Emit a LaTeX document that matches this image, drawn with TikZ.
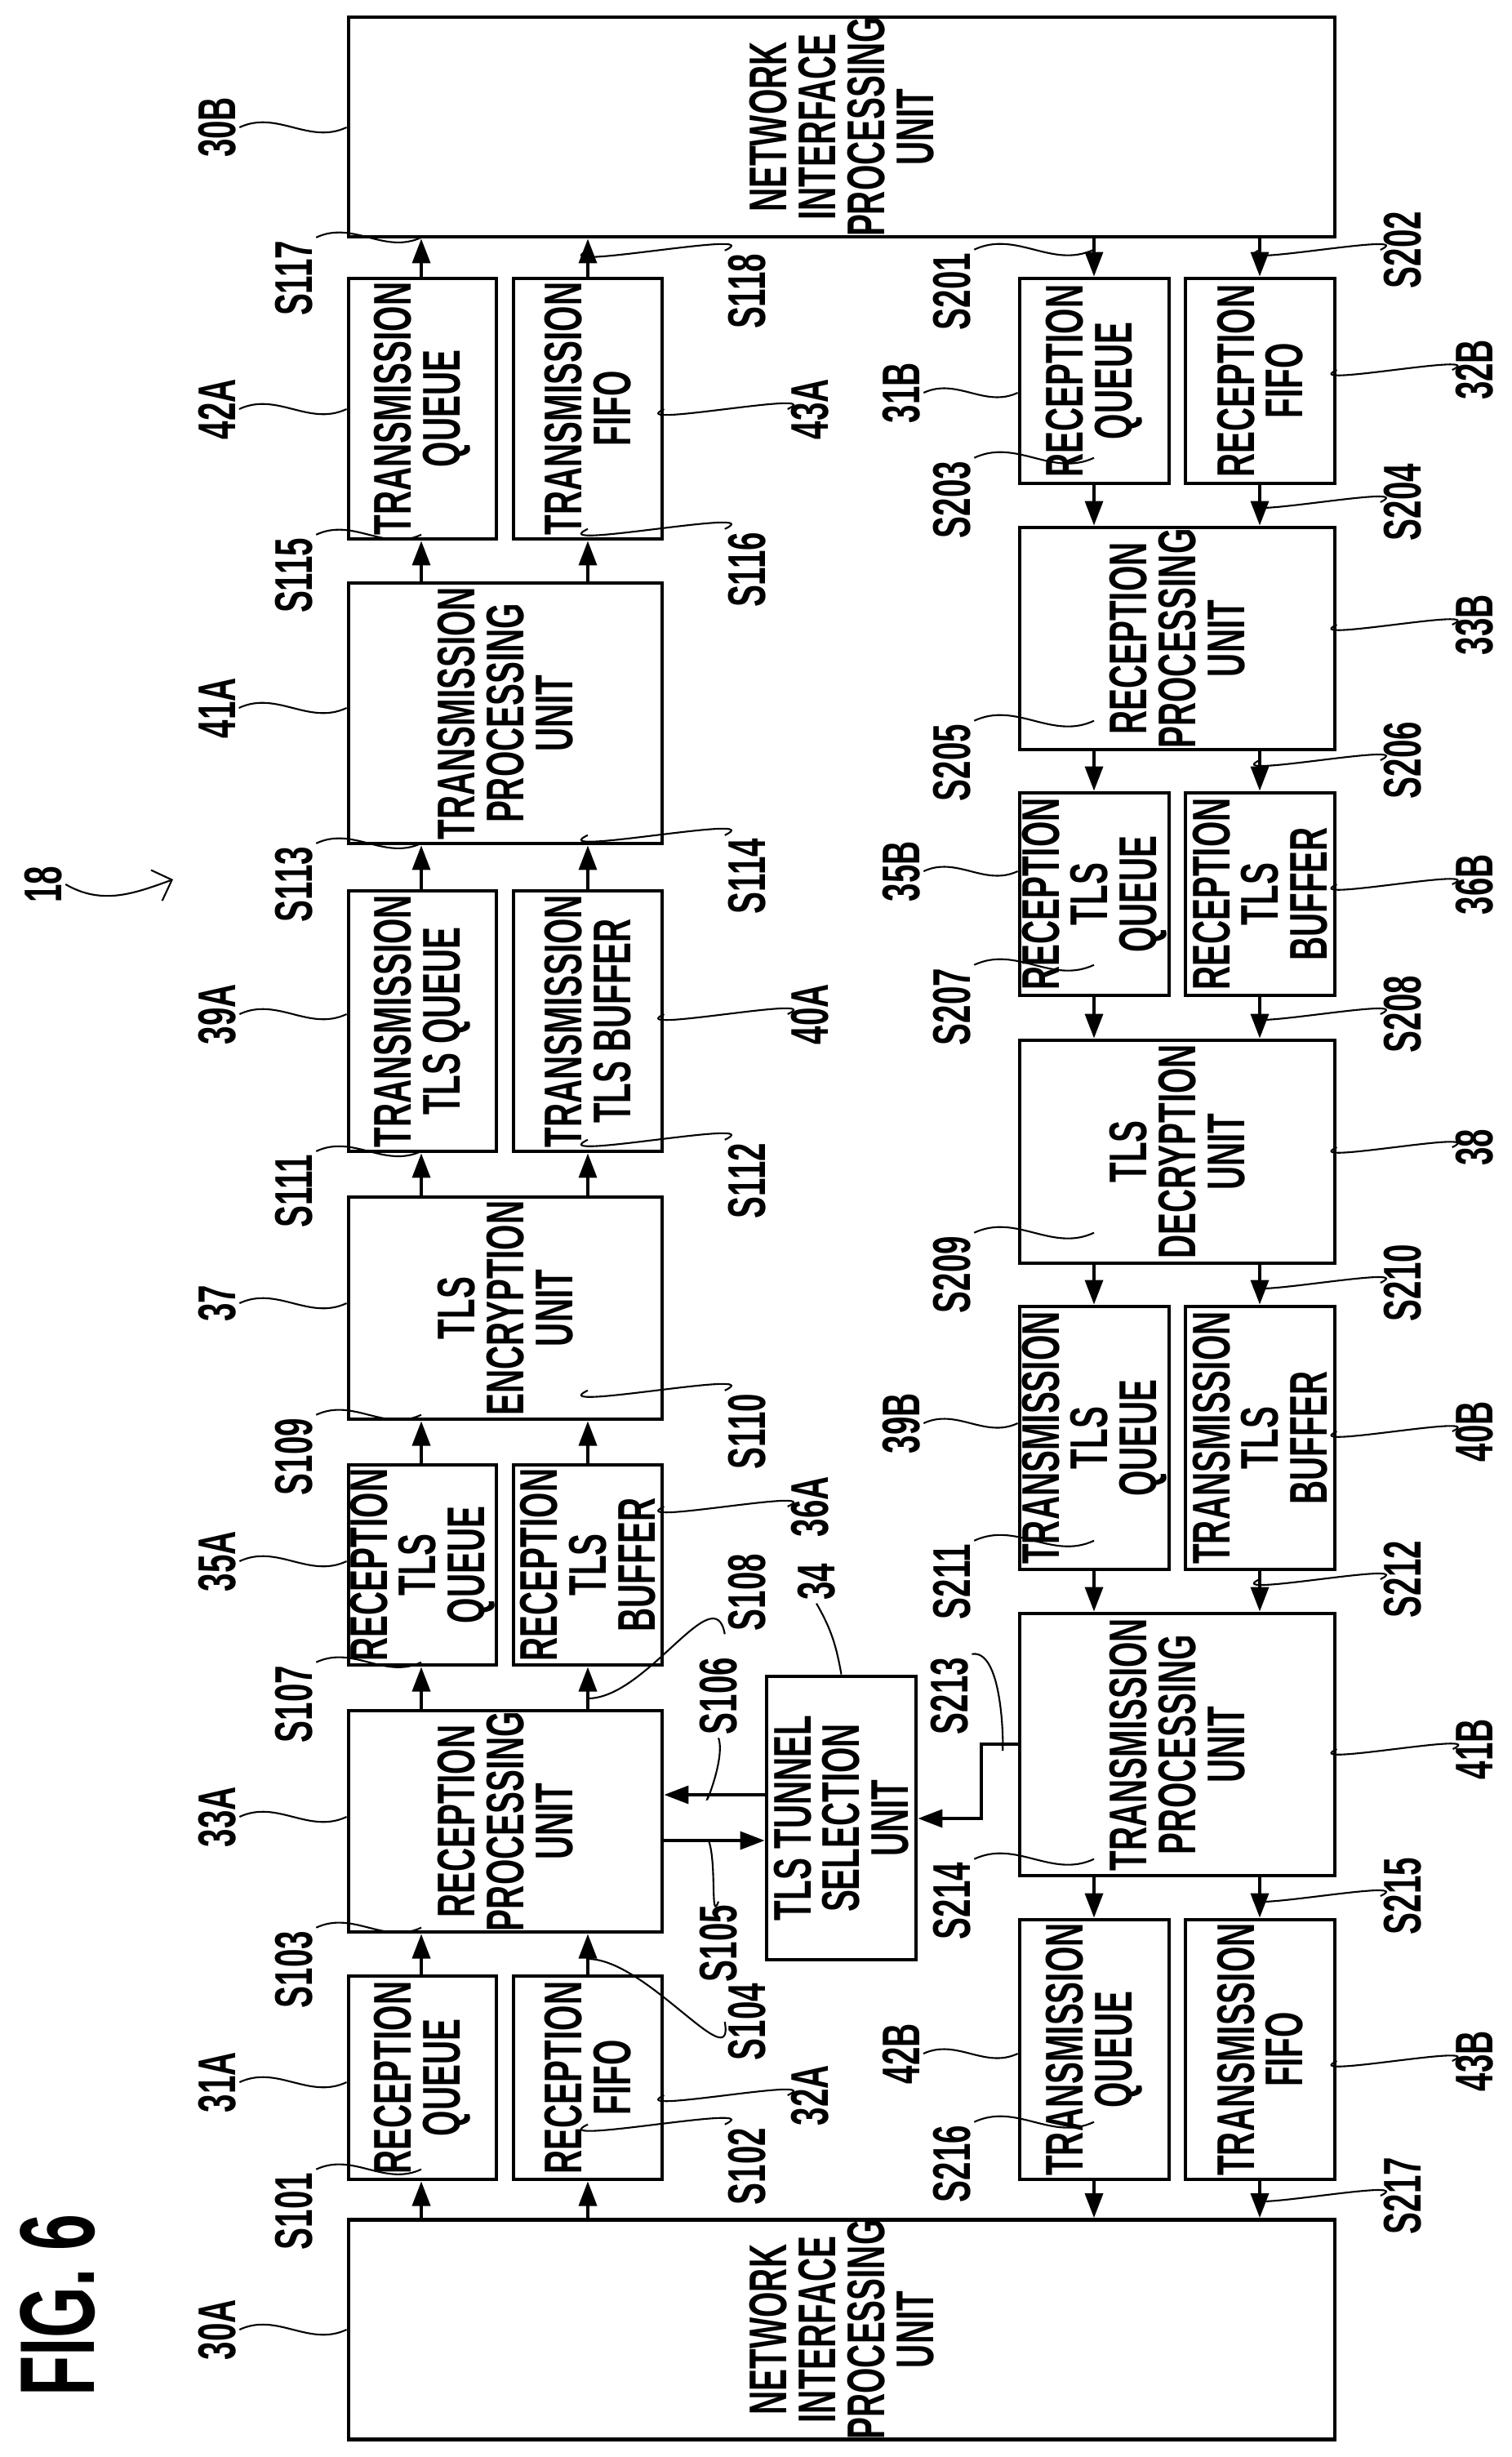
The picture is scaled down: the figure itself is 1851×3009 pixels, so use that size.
\documentclass[tikz,border=0pt]{standalone}
\usepackage{fontspec}
\setmainfont{Liberation Sans}[FakeStretch=0.62]
\usetikzlibrary{arrows.meta}
\newcommand\blk[6]{\node[box,minimum width={(#5-#3)*0.01cm},minimum height={(#4-#2)*0.01cm}] (#1) at ({(#2+#4)/2},{(#3+#5)/2}) {#6};}
\tikzset{
  box/.style={draw,line width=1.4pt,rotate=90,align=center,inner sep=0pt,
    font=\bfseries\fontsize{18.5}{17}\selectfont},
  lbl/.style={rotate=90,inner sep=1pt,font=\bfseries\fontsize{18.5}{17}\selectfont},
  lead/.style={line width=0.6pt},
  arr/.style={line width=1pt,-{Triangle[length=0.3cm,width=0.22cm]}},
  wav/.style={out=25,in=205}
}
\begin{document}
\begin{tikzpicture}[x=0.01cm,y=-0.01cm]
  \useasboundingbox (0,0) rectangle (1851,3009);
  \coordinate (cL1) at (516,0);
  \coordinate (cL2) at (720,0);
  \coordinate (cR1) at (1340,0);
  \coordinate (cR2) at (1543,0);

  % left chain
  \blk{n30B}{427}{22}{1635}{289}{NETWORK\\INTERFACE\\PROCESSING\\UNIT}
  \blk{n42A}{427}{341}{608}{660}{TRANSMISSION\\QUEUE}
  \blk{n43A}{629}{341}{811}{660}{TRANSMISSION\\FIFO}
  \blk{n41A}{427}{714}{811}{1033}{TRANSMISSION\\PROCESSING\\UNIT}
  \blk{n39A}{427}{1091}{608}{1410}{TRANSMISSION\\TLS QUEUE}
  \blk{n40A}{629}{1091}{811}{1410}{TRANSMISSION\\TLS BUFFER}
  \blk{n37}{427}{1466}{811}{1738}{TLS\\ENCRYPTION\\UNIT}
  \blk{n35A}{427}{1794}{608}{2039}{RECEPTION\\TLS\\QUEUE}
  \blk{n36A}{629}{1794}{811}{2039}{RECEPTION\\TLS\\BUFFER}
  \blk{n33A}{427}{2095}{811}{2366}{RECEPTION\\PROCESSING\\UNIT}
  \blk{n31A}{427}{2420}{608}{2669}{RECEPTION\\QUEUE}
  \blk{n32A}{629}{2420}{811}{2669}{RECEPTION\\FIFO}
  \blk{n30A}{427}{2721}{1635}{2985}{NETWORK\\INTERFACE\\PROCESSING\\UNIT}
  \blk{n34}{939}{2053}{1122}{2400}{TLS TUNNEL\\SELECTION\\UNIT}
  % right chain
  \blk{n31B}{1249}{341}{1432}{592}{RECEPTION\\QUEUE}
  \blk{n32B}{1452}{341}{1635}{592}{RECEPTION\\FIFO}
  \blk{n33B}{1249}{646}{1635}{918}{RECEPTION\\PROCESSING\\UNIT}
  \blk{n35B}{1249}{971}{1432}{1219}{RECEPTION\\TLS\\QUEUE}
  \blk{n36B}{1452}{971}{1635}{1219}{RECEPTION\\TLS\\BUFFER}
  \blk{n38}{1249}{1274}{1635}{1547}{TLS\\DECRYPTION\\UNIT}
  \blk{n39B}{1249}{1600}{1432}{1922}{TRANSMISSION\\TLS\\QUEUE}
  \blk{n40B}{1452}{1600}{1635}{1922}{TRANSMISSION\\TLS\\BUFFER}
  \blk{n41B}{1249}{1976}{1635}{2297}{TRANSMISSION\\PROCESSING\\UNIT}
  \blk{n42B}{1249}{2351}{1432}{2669}{TRANSMISSION\\QUEUE}
  \blk{n43B}{1452}{2351}{1635}{2669}{TRANSMISSION\\FIFO}

  % upward flow
  \foreach \lo/\hi in {n30A/n31A,n31A/n33A,n33A/n35A,n35A/n37,n37/n39A,n39A/n41A,n41A/n42A,n42A/n30B}
    \draw[arr] (\lo.east -| cL1) -- (\hi.west -| cL1);
  \foreach \lo/\hi in {n30A/n32A,n32A/n33A,n33A/n36A,n36A/n37,n37/n40A,n40A/n41A,n41A/n43A,n43A/n30B}
    \draw[arr] (\lo.east -| cL2) -- (\hi.west -| cL2);
  % downward flow
  \foreach \hi/\lo in {n30B/n31B,n31B/n33B,n33B/n35B,n35B/n38,n38/n39B,n39B/n41B,n41B/n42B,n42B/n30A}
    \draw[arr] (\hi.west -| cR1) -- (\lo.east -| cR1);
  \foreach \hi/\lo in {n30B/n32B,n32B/n33B,n33B/n36B,n36B/n38,n38/n40B,n40B/n41B,n41B/n43B,n43B/n30A}
    \draw[arr] (\hi.west -| cR2) -- (\lo.east -| cR2);

  % tunnel selection
  \coordinate (yS106) at (868,2198);
  \coordinate (yS105) at (868,2254);
  \coordinate (k1) at (1202,2136);
  \coordinate (k2) at (1202,2227);
  \draw[arr] (n34.north |- yS106) -- (n33A.south |- yS106);
  \draw[arr] (n33A.south |- yS105) -- (n34.north |- yS105);
  \draw[arr] (n41B.north |- k1) -- (k1) -- (k2) -- (n34.south |- k2);

  % reference numerals, left of boxes
  \foreach \n/\y in {30B/156,42A/501,41A/867,39A/1242,37/1596,35A/1912,33A/2225,31A/2550,30A/2853}{
    \node[lbl] (l\n) at (266,\y) {\n};
    \draw[lead] (l\n.south) to[wav] (n\n.north |- l\n.south);
  }
  \foreach \n/\y in {31B/481,35B/1067,39B/1743,42B/2515}{
    \node[lbl] (l\n) at (1104,\y) {\n};
    \draw[lead] (l\n.south) to[wav] (n\n.north |- l\n.south);
  }
  % reference numerals, right of boxes
  \foreach \n/\y in {43A/501,40A/1242,36A/1845,32A/2566}{
    \node[lbl] (l\n) at (992,\y) {\n};
    \draw[lead] (l\n.north) to[wav] (n\n.south |- l\n.north);
  }
  \foreach \n/\y in {32B/453,33B/765,36B/1083,38/1405,40B/1753,41B/2142,43B/2524}{
    \node[lbl] (l\n) at (1806,\y) {\n};
    \draw[lead] (l\n.north) to[wav] (n\n.south |- l\n.north);
  }
  \node[lbl] (l34) at (1000,1937) {34};
  \draw[lead] (l34.west) to[out=-60,in=100] (n34.east);

  % step labels
  \foreach \s/\y in {S117/341,S115/705,S113/1083,S111/1459,S109/1784,S107/2087,S103/2412,S101/2708}{
    \node[lbl] (l\s) at (360,\y) {\s};
    \draw[lead] (l\s.south east) to[wav] (cL1 |- l\s.south east);
  }
  \foreach \s/\y in {S118/357,S116/698,S114/1073,S112/1446,S110/1753,S102/2653}{
    \node[lbl] (l\s) at (915,\y) {\s};
    \draw[lead] (l\s.north east) to[wav] (cL2 |- l\s.north east);
  }
  \node[lbl] (lS108) at (915,1950) {S108};
  \coordinate (tS108) at (720,2080);
  \draw[lead] (lS108.north west) to[out=100,in=0] (tS108);
  \node[lbl] (lS104) at (915,2476) {S104};
  \coordinate (tS104) at (720,2399);
  \draw[lead] (lS104.north) to[out=-80,in=0] (tS104);
  \node[lbl] (lS106) at (880,2077) {S106};
  \draw[lead] (lS106.west) to[out=-70,in=-110] (yS106);
  \node[lbl] (lS105) at (880,2380) {S105};
  \draw[lead] (lS105.east) to[out=-110,in=-70] (yS105);
  \foreach \s/\y in {S201/357,S203/612,S205/934,S207/1233,S209/1561,S211/1937,S214/2328,S216/2650}{
    \node[lbl] (l\s) at (1166,\y) {\s};
    \draw[lead] (l\s.south east) to[wav] (cR1 |- l\s.south east);
  }
  \node[lbl] (lS213) at (1163,2077) {S213};
  \coordinate (tS213) at (1228,2136);
  \draw[lead] (lS213.south east) to[out=10,in=-90] (tS213);
  \foreach \s/\y in {S202/306,S204/615,S206/931,S208/1242,S210/1571,S212/1934,S215/2322,S217/2689}{
    \node[lbl] (l\s) at (1718,\y) {\s};
    \draw[lead] (l\s.north) to[wav] (cR2 |- l\s.north);
  }

  % figure number
  \node[lbl] (l18) at (53,1083) {18};
  \coordinate (t18) at (212,1077);
  \draw[lead,-{Straight Barb[length=0.2cm]}] (l18.south) to[out=-30,in=200] (t18);
  \node[rotate=90,font=\bfseries\fontsize{37}{37}\selectfont] (fig) at (71,2823) {FIG.\,6};
\end{tikzpicture}
\end{document}
